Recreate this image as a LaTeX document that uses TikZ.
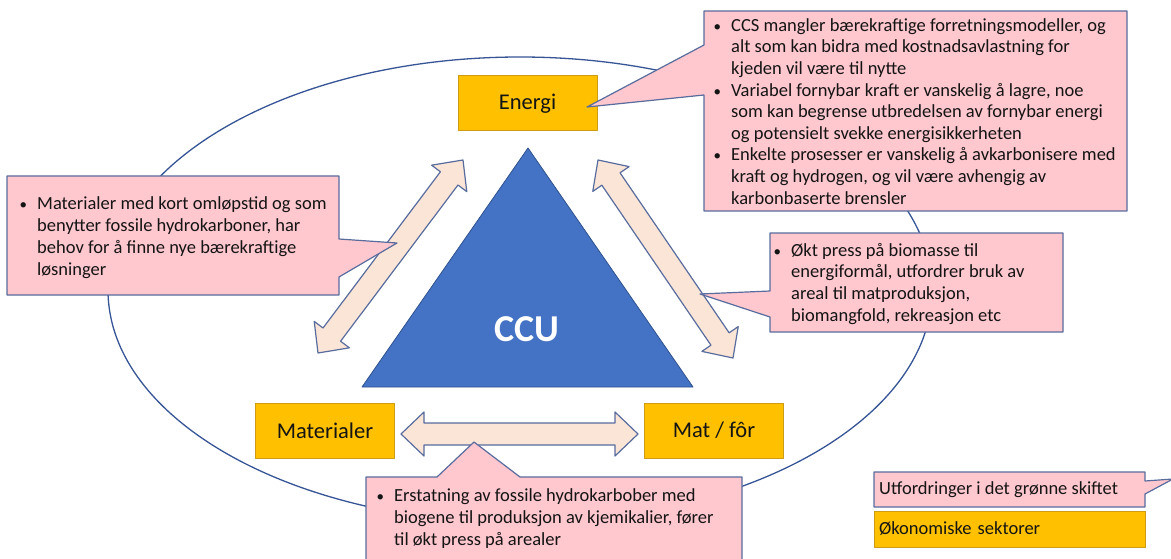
\documentclass[tikz,border=0pt]{standalone}
\usepackage{fontspec}
\setmainfont{Carlito}
\usetikzlibrary{calc}
\definecolor{calloutfill}{RGB}{255,199,206}
\definecolor{calloutline}{RGB}{88,108,158}
\definecolor{sectorfill}{RGB}{255,192,0}
\definecolor{sectorline}{RGB}{205,155,20}
\definecolor{trifill}{RGB}{68,114,196}
\definecolor{triline}{RGB}{47,82,143}
\definecolor{arrowfill}{RGB}{251,229,214}
\definecolor{ringcolor}{RGB}{55,85,150}
\definecolor{textcol}{RGB}{20,20,20}
\newcommand\calbullet{\llap{{\fontsize{15}{15}\selectfont\textbullet}\hspace{10pt}}}
\newcommand\twowayarrow[2]{%
  \coordinate (#1h) at ($(#1)!23pt!(#2)$);
  \coordinate (#2h) at ($(#2)!23pt!(#1)$);
  \draw[arrowshape] (#1)
    -- ($(#1h)!22pt!90:(#2)$) -- ($(#1h)!11pt!90:(#2)$)
    -- ($(#2h)!11pt!-90:(#1)$) -- ($(#2h)!22pt!-90:(#1)$)
    -- (#2)
    -- ($(#2h)!22pt!90:(#1)$) -- ($(#2h)!11pt!90:(#1)$)
    -- ($(#1h)!11pt!-90:(#2)$) -- ($(#1h)!22pt!-90:(#2)$) -- cycle;
}
\begin{document}
\begin{tikzpicture}[x=1pt,y=-1pt,
  font=\fontsize{18.5}{21.6}\selectfont, text=textcol, line join=round,
  calloutshape/.style={fill=calloutfill, draw=calloutline, line width=1.2pt},
  sectorbox/.style={fill=sectorfill, draw=sectorline, line width=1pt,
    minimum width=139pt, minimum height=55pt, inner sep=0pt,
    font=\fontsize{22.5}{27}\selectfont},
  arrowshape/.style={fill=arrowfill, draw=calloutline, line width=1.2pt},
  bodytext/.style={align=left, inner sep=0pt, anchor=north west},
  ringline/.style={draw=ringcolor, line width=1.3pt},
  trishape/.style={fill=trifill, draw=triline, line width=0.8pt}
]
\useasboundingbox[fill=white] (0,0) rectangle (1171,559);

% ring
\draw[ringline] (520,290) ellipse [x radius=412, y radius=233];

% triangle
\coordinate (tA) at (528,148);
\coordinate (tB) at (362,387);
\coordinate (tC) at (693,387);
\draw[trishape] (tA) -- (tB) -- (tC) -- cycle;
\node[text=white, font=\fontsize{38}{44}\selectfont\bfseries] (ccu) at (527,329) {CCU};

% double arrows
\coordinate (dLa) at (318,353);
\coordinate (dLb) at (463,160);
\coordinate (dRa) at (598,160);
\coordinate (dRb) at (733,358);
\coordinate (hzA) at (401,434);
\coordinate (hzB) at (638,434);
\twowayarrow{dLa}{dLb}
\twowayarrow{dRa}{dRb}
\twowayarrow{hzA}{hzB}

% sectors
\node[sectorbox] (energi) at (527.5,103.5) {Energi};
\node[sectorbox] (materialer) at (325,430.5) {Materialer};
\node[sectorbox] (matfor) at (714,430.5) {Mat / fôr};

% top-right callout
\draw[calloutshape] (704,11) -- (1127,11) -- (1127,211) -- (704,211)
  -- (704,95) -- (587,107) -- (704,45) -- cycle;
\node[bodytext] (trtext) at (731,15.9) {\strut\calbullet CCS mangler bærekraftige forretningsmodeller, og\\
alt som kan bidra med kostnadsavlastning for\\
kjeden vil være til nytte\\
\calbullet Variabel fornybar kraft er vanskelig å lagre, noe\\
som kan begrense utbredelsen av fornybar energi\\
og potensielt svekke energisikkerheten\\
\calbullet Enkelte prosesser er vanskelig å avkarbonisere med\\
kraft og hydrogen, og vil være avhengig av\\
karbonbaserte brensler};

% left callout
\draw[calloutshape] (7,176) -- (339,176) -- (339,239) -- (397,243)
  -- (339,277) -- (339,295) -- (7,295) -- cycle;
\node[bodytext, font=\fontsize{18.5}{22}\selectfont] (ltext) at (37,193.6) {\strut\calbullet Materialer med kort omløpstid og som\\
benytter fossile hydrokarboner, har\\
behov for å finne nye bærekraftige\\
løsninger};

% right callout
\draw[calloutshape] (770,233) -- (1063,233) -- (1063,332) -- (770,332)
  -- (770,317) -- (700,294) -- (770,291) -- cycle;
\node[bodytext, font=\fontsize{18.5}{21.7}\selectfont] (rtext) at (791,240.8) {\strut\calbullet Økt press på biomasse til\\
energiformål, utfordrer bruk av\\
areal til matproduksjon,\\
biomangfold, rekreasjon etc};

% bottom callout
\draw[calloutshape] (366,477) -- (437,477) -- (474,442) -- (520,477)
  -- (742,477) -- (742,563) -- (366,563) -- cycle;
\node[bodytext, font=\fontsize{18.5}{22}\selectfont] (btext) at (394,485.6) {\strut\calbullet Erstatning av fossile hydrokarbober med\\
biogene til produksjon av kjemikalier, fører\\
til økt press på arealer};

% legend
\draw[calloutshape] (874,472) -- (1145,472) -- (1145,481) -- (1173,479)
  -- (1145,494) -- (1145,507) -- (874,507) -- cycle;
\node[anchor=west, inner sep=0pt] (legchallenge) at (879,489.5) {Utfordringer i det grønne skiftet};
\node[fill=sectorfill, draw=sectorline, line width=1pt, text width=261pt,
  inner xsep=5pt, inner ysep=0pt, minimum height=36pt, align=left] (legsector)
  at (1009.5,529) {Økonomiske sektorer};
\end{tikzpicture}
\end{document}
